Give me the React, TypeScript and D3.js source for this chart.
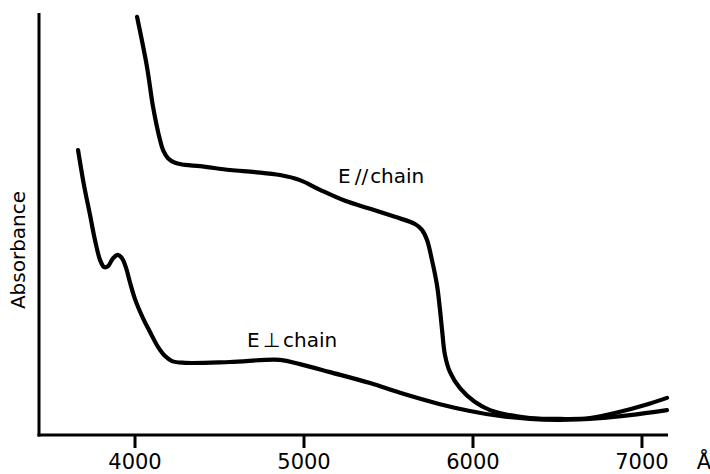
import React from "react";
import * as d3 from "d3";

// Wavelength (Å) and relative absorbance for the two polarisations
const parallelWavelength = [4012, 4071, 4107, 4148, 4166, 4195, 4237, 4296, 4385, 4562, 4710, 4858, 4976, 5095, 5243, 5391, 5538, 5657, 5698, 5728, 5757, 5787, 5805, 5817, 5834, 5864, 5923, 6012, 6101, 6219, 6337, 6515, 6692, 6870, 7018, 7148];
const parallelAbsorbance = [0.991, 0.872, 0.777, 0.699, 0.675, 0.656, 0.645, 0.64, 0.637, 0.628, 0.623, 0.616, 0.604, 0.581, 0.555, 0.536, 0.517, 0.5, 0.486, 0.462, 0.415, 0.355, 0.296, 0.249, 0.19, 0.149, 0.111, 0.078, 0.059, 0.047, 0.04, 0.038, 0.04, 0.055, 0.071, 0.088];

const perpWavelength = [3663, 3698, 3734, 3763, 3793, 3817, 3840, 3870, 3899, 3923, 3947, 3970, 4000, 4047, 4089, 4136, 4178, 4219, 4296, 4562, 4858, 4976, 5154, 5391, 5568, 5805, 5982, 6160, 6337, 6515, 6751, 6929, 7148];
const perpAbsorbance = [0.675, 0.592, 0.521, 0.462, 0.415, 0.398, 0.4, 0.419, 0.427, 0.419, 0.396, 0.362, 0.322, 0.277, 0.244, 0.209, 0.187, 0.175, 0.171, 0.173, 0.178, 0.168, 0.149, 0.123, 0.1, 0.073, 0.057, 0.045, 0.038, 0.036, 0.04, 0.047, 0.059];

const xTicks = [4000, 5000, 6000, 7000];

const W = 710;
const H = 474;
const FONT = "'DejaVu Sans', sans-serif";

export default function App() {
  const x = d3.scaleLinear().domain([3420, 7154]).range([37, 668]);
  const y = d3.scaleLinear().domain([0, 1]).range([435, 13]);

  const line = d3
    .line<[number, number]>()
    .x((d) => x(d[0]))
    .y((d) => y(d[1]))
    .curve(d3.curveCatmullRom.alpha(0.5));

  const parallel = parallelWavelength.map((w, i) => [w, parallelAbsorbance[i]] as [number, number]);
  const perp = perpWavelength.map((w, i) => [w, perpAbsorbance[i]] as [number, number]);

  return (
    <svg
      width={W}
      height={H}
      viewBox={`0 0 ${W} ${H}`}
      style={{ position: "absolute", left: 0, top: 0, background: "#fff" }}
      fontFamily={FONT}
    >
      {/* axes */}
      <line x1={39} x2={39} y1={13} y2={436.5} stroke="#000" strokeWidth={3} />
      <line x1={37.5} x2={x(7154)} y1={435} y2={435} stroke="#000" strokeWidth={3} />
      {xTicks.map((t) => (
        <g key={t}>
          <line x1={x(t)} x2={x(t)} y1={435} y2={448} stroke="#000" strokeWidth={3} />
          <text x={x(t)} y={469} textAnchor="middle" fontSize={21} fill="#000">
            {t}
          </text>
        </g>
      ))}
      <text x={704} y={469} textAnchor="middle" fontSize={21} fill="#000">
        Å
      </text>
      <text
        transform="translate(25,250) rotate(-90)"
        textAnchor="middle"
        fontSize={20}
        fill="#000"
      >
        Absorbance
      </text>

      {/* spectra */}
      <path d={line(parallel) ?? ""} fill="none" stroke="#000" strokeWidth={4.2} strokeLinecap="round" />
      <path d={line(perp) ?? ""} fill="none" stroke="#000" strokeWidth={4.2} strokeLinecap="round" />

      <text x={338} y={183} fontSize={20} fill="#000">
        E<tspan dx={4}>//</tspan><tspan dx={2}>chain</tspan>
      </text>
      <text x={247} y={347} fontSize={20} fill="#000">
        E<tspan dx={3}>⊥</tspan><tspan dx={3}>chain</tspan>
      </text>
    </svg>
  );
}
